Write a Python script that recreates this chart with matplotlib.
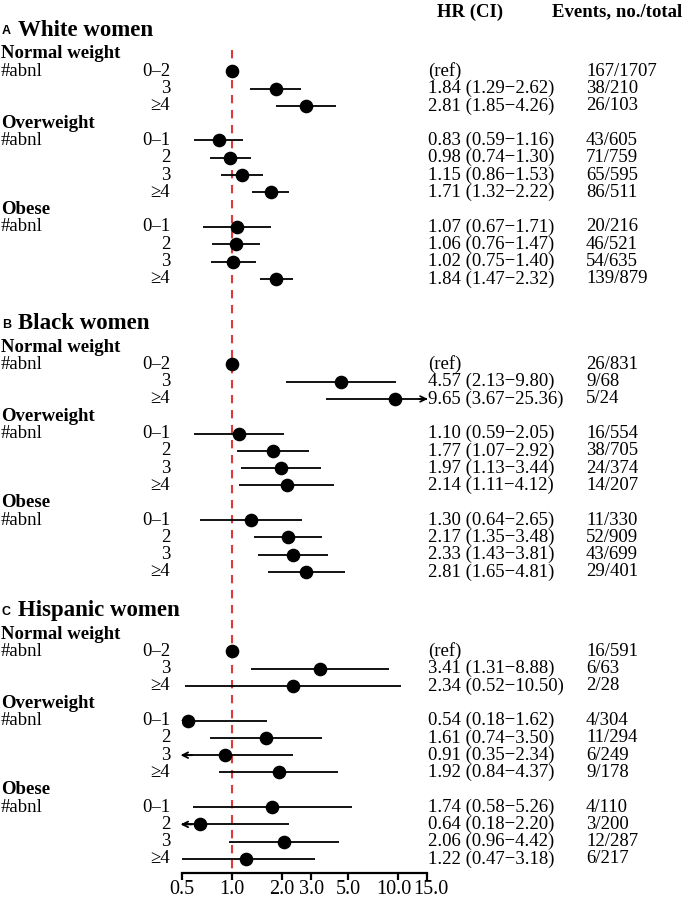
import numpy as np
import matplotlib
matplotlib.use('Agg')
import matplotlib.pyplot as plt
import matplotlib.transforms as mtransforms
from matplotlib.ticker import FixedLocator, NullLocator, NullFormatter

plt.rcParams['font.family'] = ['Liberation Serif', 'DejaVu Serif']

# ---- data -------------------------------------------------------------
panels = ['White women', 'Black women', 'Hispanic women']
panel_letters = ['A', 'B', 'C']
groups = ['Normal weight', 'Overweight', 'Obese']
group_cats = [['0\u20132', '3', '\u22654'],
              ['0\u20131', '2', '3', '\u22654'],
              ['0\u20131', '2', '3', '\u22654']]

white_hr = [1.00, 1.84, 2.81, 0.83, 0.98, 1.15, 1.71, 1.07, 1.06, 1.02, 1.84]
white_lo = [1.00, 1.29, 1.85, 0.59, 0.74, 0.86, 1.32, 0.67, 0.76, 0.75, 1.47]
white_hi = [1.00, 2.62, 4.26, 1.16, 1.30, 1.53, 2.22, 1.71, 1.47, 1.40, 2.32]
white_events = ['167/1707', '38/210', '26/103', '43/605', '71/759', '65/595',
                '86/511', '20/216', '46/521', '54/635', '139/879']

black_hr = [1.00, 4.57, 9.65, 1.10, 1.77, 1.97, 2.14, 1.30, 2.17, 2.33, 2.81]
black_lo = [1.00, 2.13, 3.67, 0.59, 1.07, 1.13, 1.11, 0.64, 1.35, 1.43, 1.65]
black_hi = [1.00, 9.80, 25.36, 2.05, 2.92, 3.44, 4.12, 2.65, 3.48, 3.81, 4.81]
black_events = ['26/831', '9/68', '5/24', '16/554', '38/705', '24/374',
                '14/207', '11/330', '52/909', '43/699', '29/401']

hisp_hr = [1.00, 3.41, 2.34, 0.54, 1.61, 0.91, 1.92, 1.74, 0.64, 2.06, 1.22]
hisp_lo = [1.00, 1.31, 0.52, 0.18, 0.74, 0.35, 0.84, 0.58, 0.18, 0.96, 0.47]
hisp_hi = [1.00, 8.88, 10.50, 1.62, 3.50, 2.34, 4.37, 5.26, 2.20, 4.42, 3.18]
hisp_events = ['16/591', '6/63', '2/28', '4/304', '11/294', '6/249',
               '9/178', '4/110', '3/200', '12/287', '6/217']

xticks = [0.5, 1.0, 2.0, 3.0, 5.0, 10.0, 15.0]
xtick_labels = ['0.5', '1.0', '2.0', '3.0', '5.0', '10.0', '15.0']

all_hr = [white_hr, black_hr, hisp_hr]
all_lo = [white_lo, black_lo, hisp_lo]
all_hi = [white_hi, black_hi, hisp_hi]
all_events = [white_events, black_events, hisp_events]

# ---- layout -----------------------------------------------------------
W, H = 683, 900
fig = plt.figure(figsize=(W / 100, H / 100), dpi=100)
ax = fig.add_axes([182 / W, 27 / H, 245 / W, 873 / H])
ax.set_xscale('log')
xmin, xmax = xticks[0], xticks[-1]
ax.set_xlim(xmin, xmax)
ybot, ytop = 47.34, -3.12
ax.set_ylim(ybot, ytop)

tr = mtransforms.blended_transform_factory(fig.transFigure, ax.transData)
x_left, x_cat, x_hr, x_ev = 1 / W, 170 / W, 428 / W, 586 / W
fs = 13.5

ax.text(437 / W, -2.43, 'HR (CI)', transform=tr, fontsize=13.5,
        fontweight='bold', va='center', ha='left')
ax.text(552 / W, -2.43, 'Events, no./total', transform=tr, fontsize=13.5,
        fontweight='bold', va='center', ha='left')

ax.plot([1, 1], [-0.23, ybot], color='#e0393b', lw=1.5, dashes=(4, 3.2),
        zorder=1, clip_on=False)

arrow_kw = dict(arrowstyle='->', lw=1.3, color='black', shrinkA=0, shrinkB=0)
panel_start = [0, 16.94, 33.53]
for p in range(len(panels)):
    y0 = panel_start[p]
    ax.text(x_left + 1 / W, y0 - 1.3, panel_letters[p], transform=tr,
            fontsize=9, fontweight='bold', family='Liberation Sans',
            va='center', ha='left')
    ax.text(x_left + 17 / W, y0 - 1.34, panels[p], transform=tr,
            fontsize=16.5, fontweight='bold', va='center', ha='left')
    hr, lo, hi, ev = all_hr[p], all_lo[p], all_hi[p], all_events[p]
    idx = 0
    line = y0
    for g, cats in zip(groups, group_cats):
        ax.text(x_left, line, g, transform=tr, fontsize=13.5,
                fontweight='bold', va='center', ha='left')
        line += 1
        ax.text(x_left, line, '#abnl', transform=tr, fontsize=fs,
                va='center', ha='left')
        for c in cats:
            y = line
            ax.text(x_cat, y, c, transform=tr, fontsize=fs, va='center',
                    ha='right')
            if lo[idx] == hi[idx]:
                hr_txt = '(ref)'
            else:
                hr_txt = '%.2f (%.2f\u2212%.2f)' % (hr[idx], lo[idx], hi[idx])
                l = max(lo[idx], xmin)
                h = min(hi[idx], xmax)
                ax.plot([l, h], [y, y], color='black', lw=1.3, zorder=2,
                        solid_capstyle='butt')
                # clipped intervals get an arrow at the axis end
                if lo[idx] < xmin * 0.9:
                    ax.annotate('', xy=(xmin * 0.98, y), xytext=(xmin * 1.15, y),
                                arrowprops=arrow_kw, annotation_clip=False)
                if hi[idx] > xmax * 1.1:
                    ax.annotate('', xy=(xmax * 1.01, y), xytext=(xmax * 0.9, y),
                                arrowprops=arrow_kw, annotation_clip=False)
            ax.plot([hr[idx]], [y], 'o', color='black', ms=8.8, zorder=3)
            ax.text(x_hr, y, hr_txt, transform=tr, fontsize=fs, va='center',
                    ha='left')
            ax.text(x_ev, y, ev[idx], transform=tr, fontsize=fs, va='center',
                    ha='left')
            idx += 1
            line += 1

# ---- axis -------------------------------------------------------------
for s in ['top', 'right', 'left']:
    ax.spines[s].set_visible(False)
ax.spines['bottom'].set_linewidth(1.6)
ax.spines['bottom'].set_bounds(xmin, xmax)
ax.xaxis.set_major_locator(FixedLocator(xticks))
ax.xaxis.set_major_formatter(NullFormatter())
ax.xaxis.set_minor_locator(NullLocator())
ax.tick_params(axis='x', length=5, width=1.6)
ax.set_yticks([])
ax.patch.set_visible(False)

# tick labels drawn by hand so the two crowded ones at the right can be nudged apart
xtr = mtransforms.blended_transform_factory(ax.transData, ax.transAxes)
nudge = {'10.0': -4, '15.0': 4}
for t, lab in zip(xticks, xtick_labels):
    off = mtransforms.ScaledTranslation(nudge.get(lab, 0) / 100, 0,
                                        fig.dpi_scale_trans)
    ax.text(t, -0.0085, lab, transform=xtr + off, fontsize=14.5,
            ha='center', va='top', clip_on=False)

fig.savefig('out.png', dpi=100)
